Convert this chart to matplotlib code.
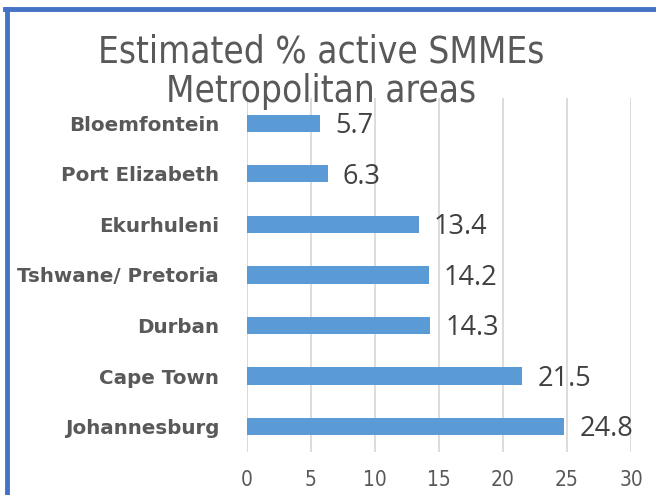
import matplotlib.pyplot as plt
from matplotlib.lines import Line2D

# data, top to bottom as in the picture
cities = ["Bloemfontein", "Port Elizabeth", "Ekurhuleni", "Tshwane/ Pretoria",
          "Durban", "Cape Town", "Johannesburg"]
values = [5.7, 6.3, 13.4, 14.2, 14.3, 21.5, 24.8]
x_ticks = [0, 5, 10, 15, 20, 25, 30]

bar_color = "#5B9BD5"
text_gray = "#595959"

fig = plt.figure(figsize=(6.56, 4.95), dpi=100)
ax = fig.add_axes([0.3765, 0.087, 0.5855, 0.715])

ypos = list(range(len(cities)))[::-1]
ax.barh(ypos, values, height=0.34, color=bar_color, zorder=3)

for y, v in zip(ypos, values):
    ax.annotate(f"{v}", xy=(v, y), xytext=(11, -2), textcoords="offset points",
                ha="left", va="center", fontsize=19.5, color="#404040",
                family="Open Sans")

ax.set_xlim(0, 30)
ax.set_ylim(-0.5, 6.5)
ax.set_xticks(x_ticks)
ax.set_xticklabels([str(t) for t in x_ticks], fontsize=15, color=text_gray,
                   family="DejaVu Sans", stretch="condensed")
ax.set_yticks(ypos)
ax.set_yticklabels(cities, fontsize=14.3, fontweight="bold", color=text_gray,
                   family="DejaVu Sans")
ax.tick_params(axis="x", length=0, pad=13)
ax.tick_params(axis="y", length=0, pad=20)

ax.grid(axis="x", color="#D9D9D9", linewidth=1.3, zorder=0)
ax.grid(axis="y", visible=False)
for s in ax.spines.values():
    s.set_visible(False)
ax.axvline(0, color="#D9D9D9", linewidth=1.3, zorder=1)

fig.text(0.49, 0.855, "Estimated % active SMMEs\nMetropolitan areas",
         ha="center", va="center", fontsize=26.5, color=text_gray,
         family="DejaVu Sans", stretch="condensed", linespacing=1.08)

# blue frame on the left and top edges
fig.add_artist(Line2D([0.01, 0.01], [0, 0.981], transform=fig.transFigure,
                      color="#4472C4", linewidth=3.5))
fig.add_artist(Line2D([0.008, 1], [0.981, 0.981], transform=fig.transFigure,
                      color="#4472C4", linewidth=3.5))

fig.savefig("out.png", dpi=100)
